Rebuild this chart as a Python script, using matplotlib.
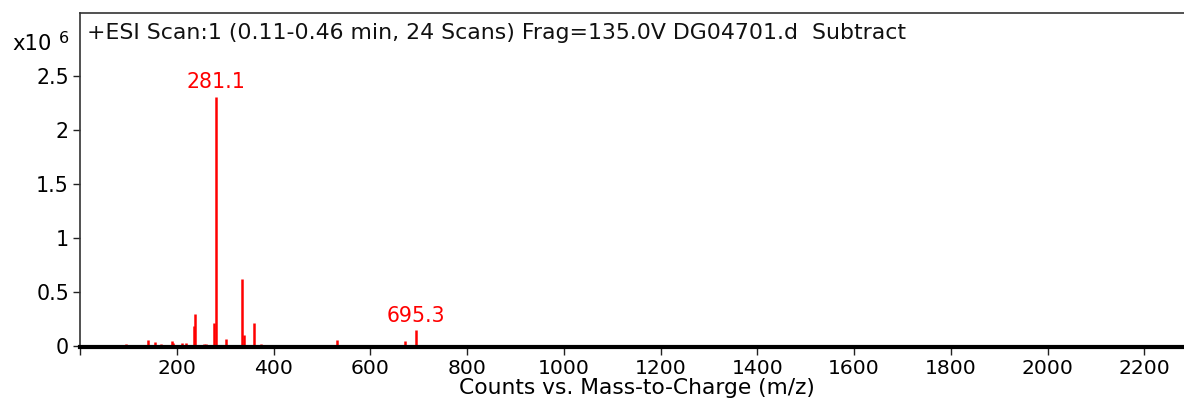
import matplotlib
matplotlib.use("Agg")
import matplotlib.pyplot as plt
from matplotlib.ticker import MultipleLocator, FuncFormatter

plt.rcParams["font.family"] = ["DejaVu Sans"]

# Spectrum peaks (m/z, counts x10^6)
mz = [95, 140, 156, 167, 190, 193, 211, 219, 235, 237.5, 257, 261,
      278, 281.1, 301, 334, 338, 359, 375, 530.5, 672, 695.3]
counts = [0.015, 0.06, 0.035, 0.02, 0.05, 0.03, 0.03, 0.03, 0.19, 0.30,
          0.015, 0.015, 0.21, 2.31, 0.062, 0.62, 0.10, 0.215, 0.015,
          0.06, 0.05, 0.145]

# Labelled peaks
label_mz = [281.1, 695.3]
label_counts = [2.31, 0.145]

title = "+ESI Scan:1 (0.11-0.46 min, 24 Scans) Frag=135.0V DG04701.d  Subtract"
xlabel = "Counts vs. Mass-to-Charge (m/z)"

W, H = 1184, 403
fig = plt.figure(figsize=(W / 100, H / 100), dpi=100)
ax = fig.add_axes([80 / W, (H - 347) / H, 1 - 80 / W, (347 - 13) / H])

ax.vlines(mz, 0, counts, color="#ff0000", linewidth=1.8)
for m, c in zip(label_mz, label_counts):
    ax.annotate(f"{m:.1f}", (m, c), xytext=(0, 6), textcoords="offset points",
                ha="center", va="baseline", color="#ff0000", fontsize=14.8)

ax.set_xlim(0, 2282)
ax.set_ylim(-0.009, 3.083)

ax.xaxis.set_major_locator(MultipleLocator(200))
ax.xaxis.set_major_formatter(FuncFormatter(lambda v, p: "" if v == 0 else f"{v:.0f}"))
ax.set_yticks([0, 0.5, 1, 1.5, 2, 2.5])
ax.set_yticklabels(["0", "0.5", "1", "1.5", "2", "2.5"])

ax.tick_params(axis="x", length=6, width=1, labelsize=14.6, pad=3, color="#222222")
ax.tick_params(axis="y", length=5, width=1, labelsize=14.8, pad=3, color="#222222")

ax.spines["right"].set_visible(False)
ax.spines["left"].set_color("#333333")
ax.spines["left"].set_linewidth(1.2)
ax.spines["top"].set_color("#333333")
ax.spines["top"].set_linewidth(1.2)
ax.spines["bottom"].set_color("black")
ax.spines["bottom"].set_linewidth(3)

ax.text(7 / (W - 80), 0.94, title, transform=ax.transAxes, fontsize=15.8,
        ha="left", va="center", color="#111111")

ax.set_xlabel(xlabel, fontsize=15.7)
ax.xaxis.set_label_coords((637 - 80) / (W - 80), -0.093)

fig.text(12 / W, 1 - 50 / H, "x10", fontsize=15.2, ha="left", va="baseline")
fig.text(59 / W, 1 - 43 / H, "6", fontsize=11.5, ha="left", va="baseline")

fig.savefig("out.png", dpi=100)
